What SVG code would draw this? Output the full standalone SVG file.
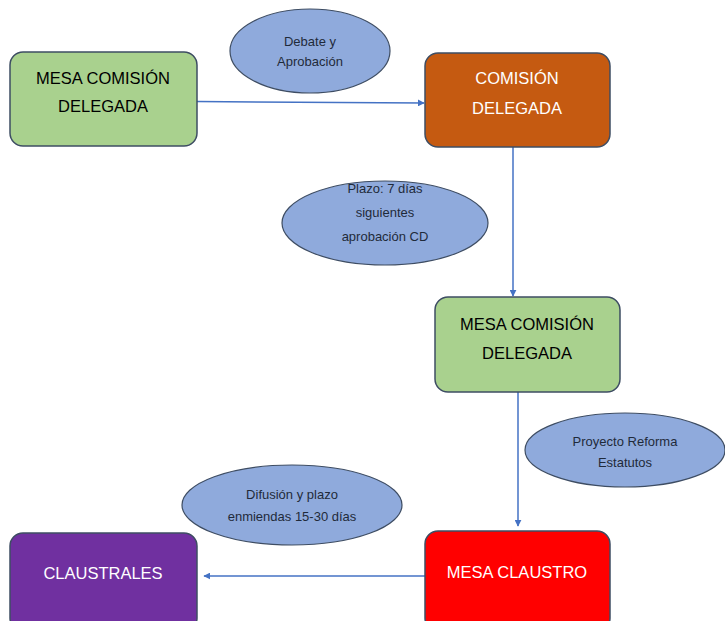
<svg xmlns="http://www.w3.org/2000/svg" width="725" height="621" viewBox="0 0 725 621">
<defs>
<style>
.box{stroke:#3E4D63;stroke-width:1.5}
.ell{fill:#8FAADC;stroke:#3E4D63;stroke-width:1.2}
.bt{font-family:"Liberation Sans",Arial,sans-serif;font-size:16.5px;text-anchor:middle}
.et{font-family:"Liberation Sans",Arial,sans-serif;font-size:13px;text-anchor:middle;fill:#1F2A3A}
.con{stroke:#4472C4;stroke-width:1.5;fill:none}
</style>
<marker id="ah" viewBox="0 0 10 10" refX="9" refY="5" markerWidth="7" markerHeight="7" orient="auto" markerUnits="userSpaceOnUse">
<path d="M0,0 L10,5 L0,10 z" fill="#4472C4"/>
</marker>
</defs>
<rect width="725" height="621" fill="#FFFFFF"/>
<g id="connectors">
<path class="con" d="M197,101.5 L424,103" marker-end="url(#ah)"/>
<path class="con" d="M513,147 L513,296" marker-end="url(#ah)"/>
<path class="con" d="M518,392 L518,526" marker-end="url(#ah)"/>
<path class="con" d="M425,576 L204,576" marker-end="url(#ah)"/>
</g>
<g id="n1">
<rect class="box" x="10" y="52" width="187" height="94" rx="13" fill="#A9D18E"/>
<text class="bt" x="103" y="84" fill="#000">MESA COMISIÓN</text>
<text class="bt" x="103" y="112" fill="#000">DELEGADA</text>
</g>
<g id="e1">
<ellipse class="ell" cx="310" cy="51" rx="80" ry="42"/>
<text class="et" x="310" y="46">Debate y</text>
<text class="et" x="310" y="66">Aprobación</text>
</g>
<g id="n2">
<rect class="box" x="425" y="53" width="185" height="94" rx="13" fill="#C55A11"/>
<text class="bt" x="517" y="84" fill="#FFFFFF">COMISIÓN</text>
<text class="bt" x="517" y="114" fill="#FFFFFF">DELEGADA</text>
</g>
<g id="e2">
<ellipse class="ell" cx="385" cy="223" rx="103" ry="42"/>
<text class="et" x="385" y="193">Plazo: 7 días</text>
<text class="et" x="385" y="217">siguientes</text>
<text class="et" x="385" y="241">aprobación CD</text>
</g>
<g id="n3">
<rect class="box" x="435" y="297" width="185" height="95" rx="13" fill="#A9D18E"/>
<text class="bt" x="527" y="330" fill="#000">MESA COMISIÓN</text>
<text class="bt" x="527" y="359" fill="#000">DELEGADA</text>
</g>
<g id="e3">
<ellipse class="ell" cx="625" cy="450" rx="100" ry="37"/>
<text class="et" x="625" y="446">Proyecto Reforma</text>
<text class="et" x="625" y="467">Estatutos</text>
</g>
<g id="e4">
<ellipse class="ell" cx="292" cy="505" rx="110" ry="40"/>
<text class="et" x="292" y="499">Difusión y plazo</text>
<text class="et" x="292" y="521">enmiendas 15-30 días</text>
</g>
<g id="n4">
<rect class="box" x="425" y="531" width="185" height="100" rx="13" fill="#FF0000"/>
<text class="bt" x="517" y="578" fill="#FFFFFF">MESA CLAUSTRO</text>
</g>
<g id="n5">
<rect class="box" x="10" y="533" width="187" height="98" rx="13" fill="#7030A0"/>
<text class="bt" x="103" y="579" fill="#FFFFFF">CLAUSTRALES</text>
</g>
</svg>
